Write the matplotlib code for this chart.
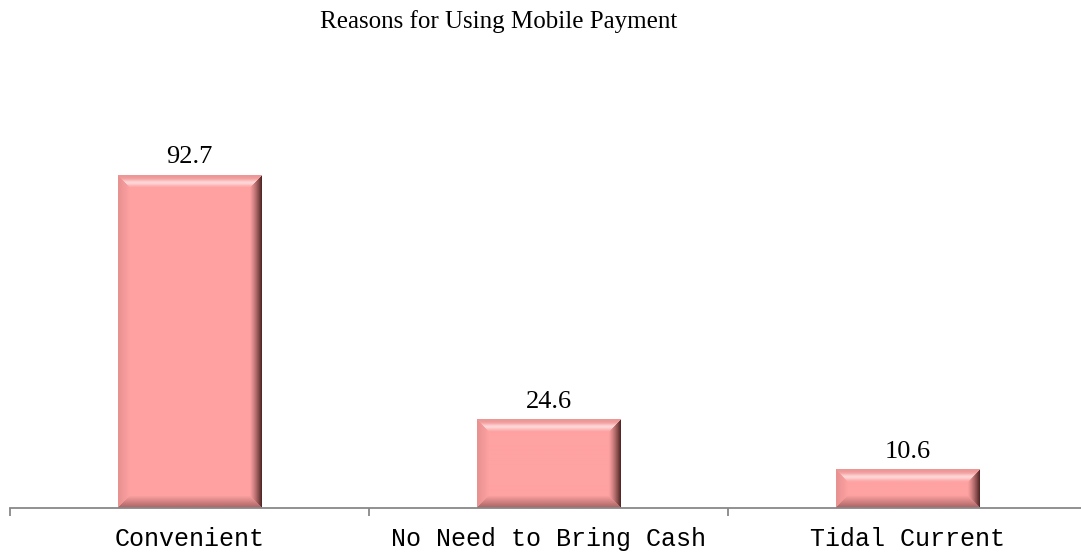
import numpy as np
import matplotlib.pyplot as plt

categories = ['Convenient', 'No Need to Bring Cash', 'Tidal Current']
values = [92.7, 24.6, 10.6]
title = 'Reasons for Using Mobile Payment'

# base colours for the bevelled bars
face = np.array([255, 162, 162]) / 255.0
light = np.array([255, 214, 214]) / 255.0
edge_top = np.array([236, 150, 150]) / 255.0
left_col = np.array([232, 145, 145]) / 255.0
right_col = np.array([85, 40, 40]) / 255.0
bottom_col = np.array([170, 100, 100]) / 255.0


def bevel_image(w, h, b):
    # pixel grid for one bar, w x h, bevel width b (all in pixels)
    yy, xx = np.mgrid[0:h, 0:w].astype(float)
    d_top = yy
    d_bot = h - 1 - yy
    d_left = xx
    d_right = w - 1 - xx
    img = np.tile(face, (h, w, 1))
    dmin = np.minimum.reduce([d_top, d_bot, d_left, d_right])
    inside = dmin < b
    t = np.clip(dmin / b, 0, 1)[..., None]

    top = inside & (d_top == dmin)
    bot = inside & (d_bot == dmin) & ~top
    lef = inside & (d_left == dmin) & ~top & ~bot
    rig = inside & (d_right == dmin) & ~top & ~bot & ~lef

    # top: pink edge -> light highlight -> face
    tt = t[..., 0]
    hl = np.exp(-((tt - 0.6) / 0.25) ** 2)[..., None]
    top_c = edge_top * (1 - t) + face * t
    top_c = top_c * (1 - hl) + light * hl
    img[top] = top_c[top]
    # left: slightly darker
    lc = left_col * (1 - t) + face * t
    img[lef] = lc[lef]
    # right: dark shadow toward the edge
    rc = right_col * (1 - t) ** 1.3 + face * (1 - (1 - t) ** 1.3)
    img[rig] = rc[rig]
    # bottom: darker band
    bc = bottom_col * (1 - t) + face * t
    img[bot] = bc[bot]
    return img


fig = plt.figure(figsize=(10.81, 5.58), dpi=100)
ax = fig.add_axes([10 / 1081, 50 / 558, 1077 / 1081, 359 / 558])

x = np.arange(len(categories))
bars = ax.bar(x, values, width=0.4, color='none', edgecolor='none')
ax.set_xlim(-0.5, 2.5)
ax.set_ylim(0, 100)

# shade each bar with a bevel image placed over its extent
fig.canvas.draw()
for rect in bars:
    bb = rect.get_window_extent()
    w = max(int(round(bb.width)), 2)
    h = max(int(round(bb.height)), 2)
    img = bevel_image(w, h, 12)
    x0 = rect.get_x()
    ax.imshow(img, extent=(x0, x0 + rect.get_width(), 0, rect.get_height()),
              aspect='auto', origin='upper', zorder=3, interpolation='bilinear')
ax.set_xlim(-0.5, 2.5)
ax.set_ylim(0, 100)

for xi, v in zip(x, values):
    ax.annotate(f'{v}', (xi, v), xytext=(0, 5), textcoords='offset points',
                ha='center', va='bottom', fontsize=19, family='Liberation Serif')

for s in ['top', 'right', 'left']:
    ax.spines[s].set_visible(False)
ax.spines['bottom'].set_color('#888888')
ax.spines['bottom'].set_linewidth(1.3)
ax.spines['bottom'].set_zorder(4)

ax.set_yticks([])
ax.set_xticks([-0.5, 0.5, 1.5, 2.5])
ax.set_xticklabels([])
ax.tick_params(axis='x', which='major', length=6, width=1.3, color='#888888')
ax.set_xticks(x, minor=True)
ax.set_xticklabels(categories, minor=True, fontsize=18, family='Liberation Mono')
ax.tick_params(axis='x', which='minor', length=0, pad=14)

fig.text(499 / 1081, 1 - 22 / 558, title, ha='center', va='center',
         fontsize=18, family='Liberation Serif')

fig.savefig('out.png', dpi=100)
